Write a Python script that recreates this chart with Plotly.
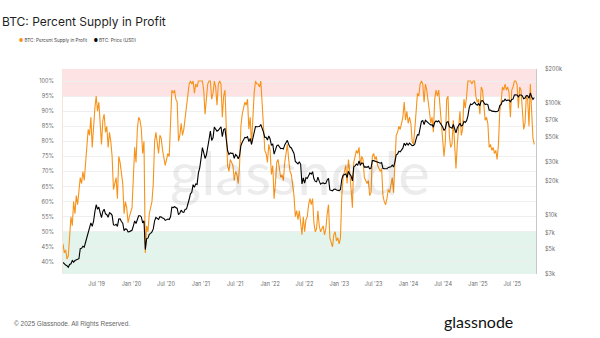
import math
import pandas as pd
import plotly.graph_objects as go

# Weekly (Saturday) readings, one list per calendar year
week_starts = {
    2019: "2019-01-05", 2020: "2020-01-04", 2021: "2021-01-02", 2022: "2022-01-01",
    2023: "2023-01-07", 2024: "2024-01-06", 2025: "2025-01-04",
}

# BTC: Percent Supply in Profit (%)
profit_2019 = [46, 43, 44, 41, 42, 48, 55, 52, 60, 56, 62, 59, 63, 68, 66, 70, 67,
               74, 80, 84, 82, 88, 78, 86, 91, 95, 90, 93, 84, 79, 87, 89, 83, 85, 78,
               83, 80, 75, 64, 66, 68, 61, 75, 73, 70, 66, 56, 60, 58, 53, 55, 57]
profit_2020 = [58, 68, 78, 73, 84, 88, 87, 84, 76, 80, 43, 52, 50, 56, 58, 60, 66,
               80, 83, 80, 76, 82, 81, 77, 75, 72, 74, 76, 75, 84, 97, 96, 97, 94, 93,
               80, 82, 86, 82, 84, 88, 91, 97, 99, 100, 99, 100, 96, 99, 98, 100, 100]
profit_2021 = [100, 100, 97, 89, 94, 99, 100, 100, 94, 96, 100, 98, 92, 99, 100, 99, 88,
               95, 97, 84, 72, 70, 74, 73, 72, 67, 70, 69, 66, 72, 85, 89, 91, 93, 92,
               94, 84, 88, 79, 88, 96, 100, 99, 99, 98, 100, 94, 85, 77, 76, 73, 79]
profit_2022 = [77, 69, 72, 61, 66, 73, 74, 70, 68, 69, 67, 73, 77, 79, 74, 70, 69, 65,
               62, 55, 57, 54, 57, 53, 49, 55, 50, 54, 55, 59, 61, 59, 61, 53, 50,
               51, 57, 52, 50, 51, 52, 49, 51, 56, 59, 48, 46, 45, 49, 50, 47, 48, 46]
profit_2023 = [48, 62, 68, 70, 72, 66, 74, 70, 65, 58, 73, 75, 77, 76, 78, 72, 75,
               74, 68, 67, 66, 67, 62, 63, 75, 76, 74, 75, 72, 71, 70, 71, 62, 60,
               59, 61, 64, 63, 65, 68, 63, 73, 82, 83, 85, 84, 86, 88, 93, 87, 90, 86]
profit_2024 = [88, 86, 80, 79, 84, 92, 96, 95, 99, 100, 99, 93, 99, 97, 94, 90, 86,
               88, 83, 94, 97, 95, 97, 91, 88, 82, 75, 80, 94, 95, 82, 78, 79, 87, 76,
               71, 79, 86, 90, 82, 84, 94, 91, 95, 100, 100, 100, 99, 100, 100, 95, 93]
profit_2025 = [94, 89, 98, 97, 93, 87, 88, 86, 78, 79, 77, 78, 76, 77, 74, 79, 90,
               93, 98, 97, 99, 97, 98, 96, 88, 97, 98, 100, 100, 99, 91, 98, 97, 88, 84,
               86, 95, 94, 85, 99, 89, 81, 79]

# BTC: Price (USD)
price_2019 = [3800, 3650, 3600, 3550, 3450, 3650, 3700, 3950, 3820, 3950, 4000, 4000, 4100,
              5050, 5080, 5300, 5200, 5750, 6350, 7300, 8000, 8550, 7950, 8800, 10700, 12400,
              11300, 11800, 10500, 9500, 10800, 11300, 10300, 10100, 9600, 10500, 10350, 9980,
              8200, 8150, 8300, 7950, 9250, 9300, 8800, 8500, 7300, 7550, 7500, 7100, 7150, 7300]
price_2020 = [7350, 8050, 8900, 8450, 9350, 9900, 9900, 9650, 8550, 8900, 4950, 6200, 6250,
              6750, 6900, 7100, 7550, 8900, 9550, 9380, 9180, 9700, 9650, 9450, 9350, 9000,
              9100, 9250, 9150, 9700, 11800, 11700, 11900, 11650, 11500, 10100, 10400, 11100,
              10700, 10600, 11300, 11350, 13000, 13800, 15500, 16000, 18700, 17700, 19000,
              18800, 23800, 26400]
price_2021 = [32000, 40000, 36000, 32000, 34300, 39300, 47000, 56000, 46200, 48900, 61000,
              58300, 55900, 57000, 59800, 61300, 50000, 57800, 58800, 46800, 37500, 34700,
              35800, 35500, 35600, 32100, 34700, 33800, 31800, 34000, 41600, 44600, 47100,
              49300, 48900, 50000, 45200, 48300, 42700, 47700, 54900, 61500, 61300, 61800,
              61500, 64100, 59700, 54800, 49300, 49300, 46700, 50800]
price_2022 = [47700, 41800, 43100, 35000, 37900, 41500, 42200, 40100, 39100, 39400, 38800,
              42200, 44500, 46400, 42700, 40400, 39700, 37700, 35500, 30100, 29400, 28600,
              29900, 28400, 19000, 21500, 19300, 21600, 21200, 22600, 23800, 23200, 24400,
              21100, 20000, 19800, 21800, 20100, 18900, 19300, 19400, 19100, 19200, 20600,
              21300, 16800, 16700, 16500, 17000, 17100, 16800, 16800, 16550]
price_2023 = [16950, 20900, 22700, 23000, 23300, 21600, 24600, 23200, 22350, 20200, 26900,
              27500, 28500, 27900, 30500, 27800, 29200, 28900, 26800, 26900, 26700, 27200,
              25900, 26300, 30600, 30600, 30300, 30300, 29800, 29300, 29000, 29400, 26100,
              26000, 25900, 25900, 26600, 26600, 27000, 27950, 26850, 29900, 34500, 35000,
              37100, 36600, 37700, 39500, 43700, 41900, 43700, 42100]
price_2024 = [43900, 42800, 41600, 41800, 43000, 47800, 52100, 51600, 62000, 68300, 69500,
              64000, 69900, 67800, 67200, 64900, 63500, 63900, 60800, 67000, 69000, 67800,
              69300, 66200, 64300, 60900, 56700, 59200, 67100, 68000, 61400, 60900, 59500,
              64100, 57300, 54100, 60000, 63300, 65800, 62100, 63000, 68400, 67000, 69400,
              76700, 90600, 97700, 96400, 99900, 101400, 97300, 95300]
price_2025 = [98300, 94500, 104000, 104700, 100600, 96500, 97500, 96500, 86000, 86100, 84300,
              84000, 82600, 83500, 83800, 85100, 94700, 96500, 104000, 103500, 107800, 104600,
              105700, 105500, 102300, 107300, 108000, 117500, 118000, 117600, 113300, 117400,
              117500, 115500, 108800, 110200, 116000, 115700, 109600, 122300, 113200, 107200,
              111500]

profit_by_year = {2019: profit_2019, 2020: profit_2020, 2021: profit_2021, 2022: profit_2022,
                  2023: profit_2023, 2024: profit_2024, 2025: profit_2025}
price_by_year = {2019: price_2019, 2020: price_2020, 2021: price_2021, 2022: price_2022,
                 2023: price_2023, 2024: price_2024, 2025: price_2025}

# Axis ticks
pct_ticks = [40, 45, 50, 55, 60, 65, 70, 75, 80, 85, 90, 95, 100]
usd_ticks = [3000, 5000, 7000, 10000, 20000, 30000, 50000, 70000, 100000, 200000]
usd_labels = ["$3k", "$5k", "$7k", "$10k", "$20k", "$30k", "$50k", "$70k", "$100k", "$200k"]
date_ticks = ["2019-07-01", "2020-01-01", "2020-07-01", "2021-01-01", "2021-07-01",
              "2022-01-01", "2022-07-01", "2023-01-01", "2023-07-01", "2024-01-01",
              "2024-07-01", "2025-01-01", "2025-07-01"]
date_labels = ["Jul '19", "Jan '20", "Jul '20", "Jan '21", "Jul '21", "Jan '22", "Jul '22",
               "Jan '23", "Jul '23", "Jan '24", "Jul '24", "Jan '25", "Jul '25"]

dates, profit, price = [], [], []
for yr, start in week_starts.items():
    n = len(profit_by_year[yr])
    dates += list(pd.date_range(start, periods=n, freq="7D"))
    profit += profit_by_year[yr]
    price += price_by_year[yr][:n]

ORANGE = "#f7931a"
TICK = "#6b6b6b"
FONT = "Inter"

fig = go.Figure()
fig.add_trace(go.Scatter(x=dates, y=profit, mode="lines", yaxis="y",
                         line=dict(color=ORANGE, width=1.1), showlegend=False))
fig.add_trace(go.Scatter(x=dates, y=price, mode="lines", yaxis="y2",
                         line=dict(color="#000000", width=1.1), showlegend=False))

# Profit / loss zones
fig.add_shape(type="rect", xref="paper", yref="y", x0=0, x1=1, y0=95, y1=104,
              fillcolor="#fde3e3", line_width=0, layer="below")
fig.add_shape(type="rect", xref="paper", yref="y", x0=0, x1=1, y0=36, y1=50,
              fillcolor="#e3f4ec", line_width=0, layer="below")

fig.update_layout(
    width=600, height=338,
    margin=dict(l=63, r=64, t=69, b=64),
    paper_bgcolor="white", plot_bgcolor="white",
    font=dict(family=FONT, color=TICK),
    xaxis=dict(type="date", range=["2019-01-05", "2025-11-03"], tickvals=date_ticks,
               ticktext=date_labels, showgrid=False, zeroline=False,
               tickfont=dict(size=5.5, color=TICK), ticks="", ticklabelstandoff=5),
    yaxis=dict(range=[36, 104], tickvals=pct_ticks, ticktext=[f"{v}%" for v in pct_ticks],
               showgrid=True, gridcolor="#efefef", gridwidth=1, zeroline=False,
               tickfont=dict(size=5.5, color=TICK), ticks="", ticklabelstandoff=7,
               showline=True, linecolor="#f3e5da", linewidth=1),
    yaxis2=dict(type="log", overlaying="y", side="right",
                range=[math.log10(3000), math.log10(200000)],
                tickvals=usd_ticks, ticktext=usd_labels, showgrid=False, zeroline=False,
                tickfont=dict(size=5.5, color=TICK), ticks="", ticklabelstandoff=7,
                showline=True, linecolor="#c9c9c9", linewidth=1),
)

# Title, legend, watermark and footer
fig.add_annotation(text="BTC: Percent Supply in Profit", xref="paper", yref="paper",
                   x=-63 / 473, y=1 + 48 / 205, xanchor="left", yanchor="middle",
                   showarrow=False, font=dict(family=FONT, size=12, color="#1f1f1f"))
fig.add_annotation(text=f"<span style='color:{ORANGE}'>●</span> BTC: Percent Supply in Profit"
                        "&nbsp;&nbsp;&nbsp;&nbsp;&nbsp;<span style='color:#000'>●</span> BTC: Price (USD)",
                   xref="paper", yref="paper", x=-46 / 473, y=1 + 28 / 205,
                   xanchor="left", yanchor="middle", showarrow=False,
                   font=dict(family=FONT, size=4.6, color="#444"))
fig.add_annotation(text="glassnode", xref="paper", yref="paper", x=0.5, y=0.5,
                   xanchor="center", yanchor="middle", showarrow=False,
                   font=dict(family="Lato", size=60, color="rgba(0,0,0,0.075)"))
fig.add_annotation(text="© 2025 Glassnode. All Rights Reserved.", xref="paper", yref="paper",
                   x=-51 / 473, y=-50 / 205, xanchor="left", yanchor="middle",
                   showarrow=False, font=dict(family="Liberation Sans", size=6.5, color="#666"))
fig.add_annotation(text="glassnode", xref="paper", yref="paper", x=478 / 473 - 63 / 473,
                   y=-47 / 205, xanchor="center", yanchor="middle", showarrow=False,
                   font=dict(family="Lato", size=16, color="#111"))

fig.write_html("out.html")
